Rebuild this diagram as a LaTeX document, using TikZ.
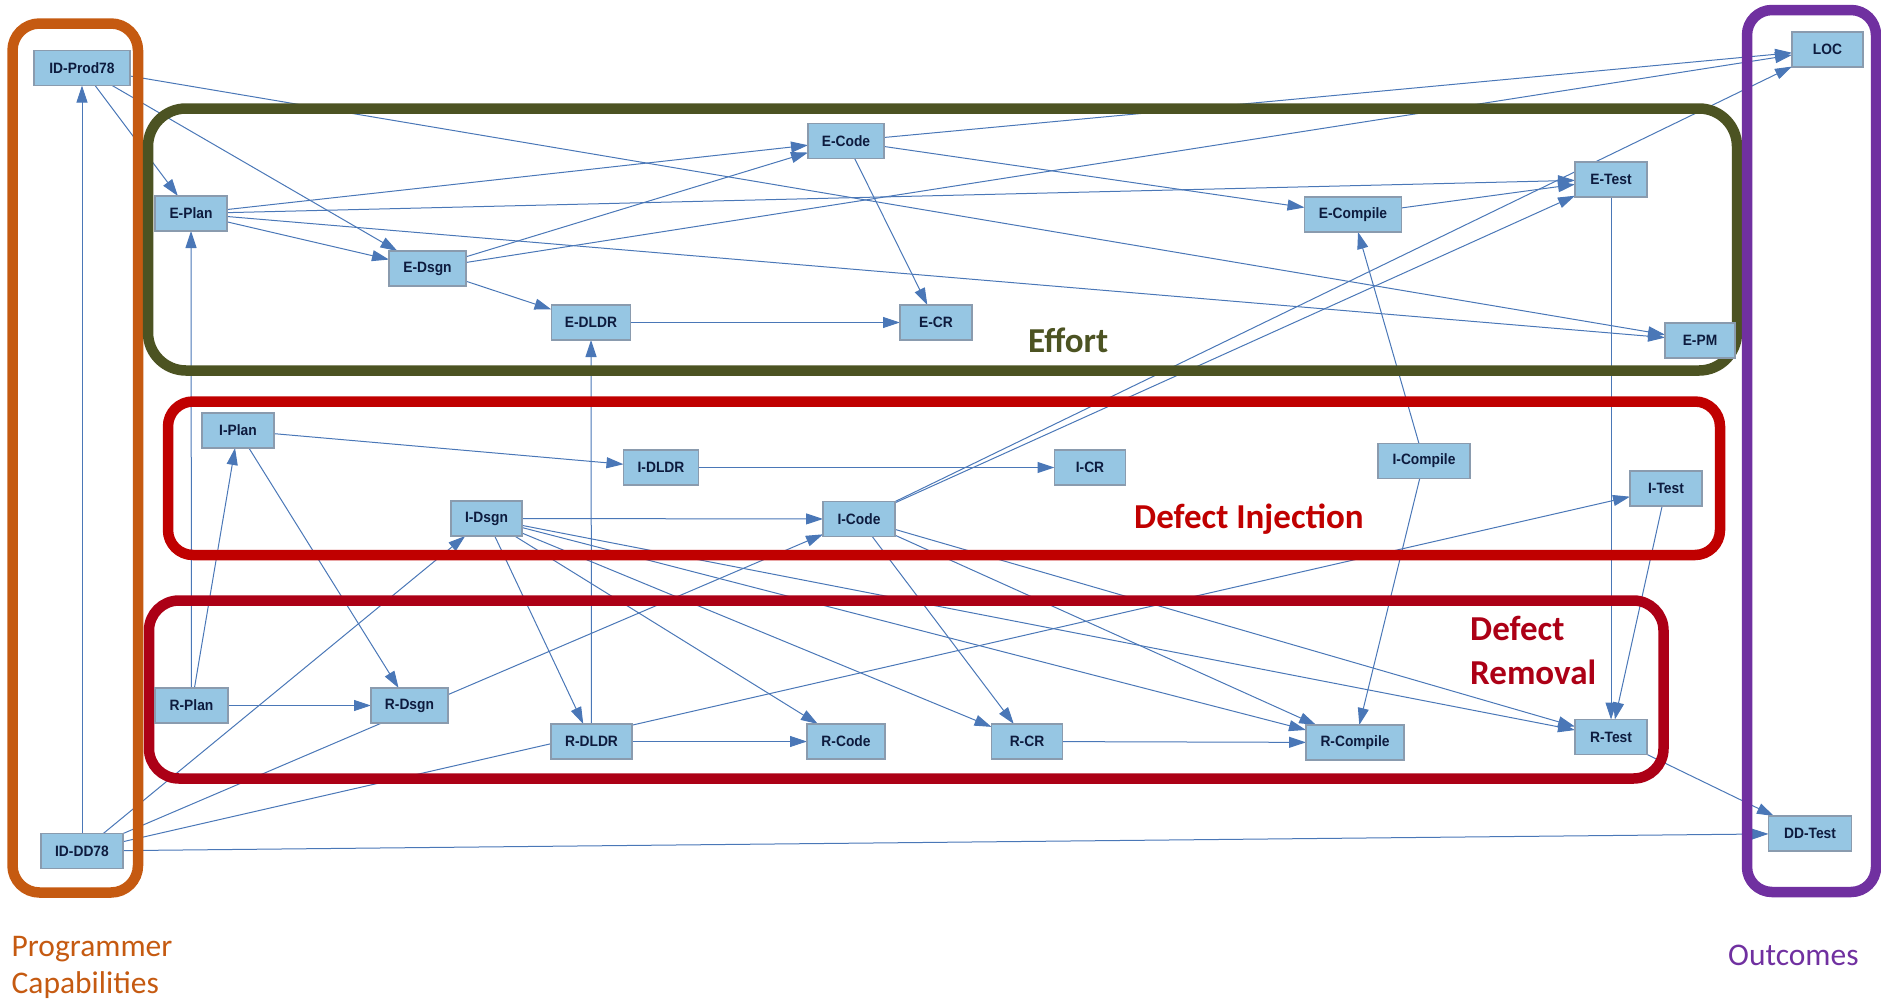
\documentclass[tikz,border=0pt]{standalone}
\usepackage{fontspec}
\setmainfont{Carlito}
\newfontfamily\nodefont[FakeStretch=0.92]{Liberation Sans}
\usetikzlibrary{arrows.meta}
\pgfdeclarelayer{edgelayer}
\pgfdeclarelayer{framelayer}
\pgfsetlayers{edgelayer,framelayer,main}

\definecolor{nodefill}{HTML}{96C6E3}
\definecolor{nodeborder}{HTML}{8A9BAE}
\definecolor{nodetext}{HTML}{0D1B3E}
\definecolor{edgeblue}{HTML}{4A77B7}
\definecolor{capcol}{HTML}{C55A11}
\definecolor{effcol}{HTML}{4C5322}
\definecolor{injcol}{HTML}{C00000}
\definecolor{remcol}{HTML}{AC0016}
\definecolor{outcol}{HTML}{7030A0}

\begin{document}
\begin{tikzpicture}[x=1pt,y=-1pt,
  var/.style={draw=nodeborder, line width=1.3pt, fill=nodefill,
    minimum height=35pt, minimum width=#1, inner sep=0pt, outer sep=0pt,
    font=\nodefont\bfseries\fontsize{15}{17}\selectfont, text=nodetext},
  var/.default=72pt,
  link/.style={draw=edgeblue, line width=1pt,
    -{Triangle[length=17pt,width=11pt]}},
  groupframe/.style={line width=10.5pt},
  grouplabel/.style={font=\bfseries\fontsize{35}{42}\selectfont,
    anchor=base west, inner sep=0pt},
  sidelabel/.style={font=\fontsize{31.5}{37}\selectfont,
    anchor=base west, inner sep=0pt},
]
\useasboundingbox (0,0) rectangle (1881,999);

% ---------- variables ----------
\node[var=96pt] (IDP) at (82,68) {ID-Prod78};
\node[var=82pt] (IDD) at (82,851) {ID-DD78};

\node[var=72pt] (EPlan) at (191,213.5) {E-Plan};
\node[var=77pt] (EDsgn) at (427.5,268.5) {E-Dsgn};
\node[var=79pt] (EDLDR) at (591,322.5) {E-DLDR};
\node[var=76pt] (ECode) at (846,141) {E-Code};
\node[var=72pt] (ECR) at (936,322.5) {E-CR};
\node[var=97pt] (ECompile) at (1353,214.5) {E-Compile};
\node[var=72pt] (ETest) at (1611,179.5) {E-Test};
\node[var=70pt] (EPM) at (1700,340.5) {E-PM};

\node[var=72pt] (IPlan) at (238,430.5) {I-Plan};
\node[var=75pt] (IDLDR) at (661,467.5) {I-DLDR};
\node[var=71pt] (IDsgn) at (486.5,518.5) {I-Dsgn};
\node[var=72pt] (ICode) at (859,519) {I-Code};
\node[var=71pt] (ICR) at (1090,467.5) {I-CR};
\node[var=92pt] (ICompile) at (1424,461) {I-Compile};
\node[var=72pt] (ITest) at (1666,488.5) {I-Test};

\node[var=73pt] (RPlan) at (191.5,705.5) {R-Plan};
\node[var=77pt] (RDsgn) at (409.5,705.5) {R-Dsgn};
\node[var=81pt] (RDLDR) at (591.5,741.5) {R-DLDR};
\node[var=78pt] (RCode) at (846,741.5) {R-Code};
\node[var=71pt] (RCR) at (1027,741.5) {R-CR};
\node[var=98pt] (RCompile) at (1355,742.5) {R-Compile};
\node[var=72pt] (RTest) at (1611,737) {R-Test};

\node[var=71pt] (LOC) at (1827.5,49.5) {LOC};
\node[var=83pt] (DDTest) at (1810,833.5) {DD-Test};

% ---------- dependencies ----------
\begin{pgfonlayer}{edgelayer}
  \draw[link] (IDD) -- (IDP);
  \draw[link] (IDP) -- (EPlan);
  \draw[link] (IDP) -- (EDsgn);
  \draw[link] (IDP) -- (EPM);
  \draw[link] (IDD) -- (IDsgn);
  \draw[link] (IDD) -- (ICode);
  \draw[link] (IDD) -- (ITest);
  \draw[link] (IDD) -- (DDTest);

  \draw[link] (EPlan) -- (ECode);
  \draw[link] (EPlan) -- (EDsgn);
  \draw[link] (EPlan) -- (ETest);
  \draw[link] (EPlan) -- (EPM);
  \draw[link] (EDsgn) -- (ECode);
  \draw[link] (EDsgn) -- (EDLDR);
  \draw[link] (EDsgn) -- (LOC);
  \draw[link] (ECode) -- (LOC);
  \draw[link] (ECode) -- (ECompile);
  \draw[link] (ECode) -- (ECR);
  \draw[link] (EDLDR) -- (ECR);
  \draw[link] (ECompile) -- (ETest);
  \draw[link] (ETest) -- (RTest);

  \draw[link] (ICode) -- (ETest);
  \draw[link] (ICode) -- (LOC);
  \draw[link] (ICompile) -- (ECompile);
  \draw[link] (ICompile) -- (RCompile);

  \draw[link] (RPlan) -- (EPlan);
  \draw[link] (RPlan) -- (IPlan);
  \draw[link] (RPlan) -- (RDsgn);
  \draw[link] (IPlan) -- (IDLDR);
  \draw[link] (IPlan) -- (RDsgn);
  \draw[link] (IDLDR) -- (ICR);

  \draw[link] (IDsgn) -- (ICode);
  \draw[link] (IDsgn) -- (RDLDR);
  \draw[link] (IDsgn) -- (RCode);
  \draw[link] (IDsgn) -- (RCR);
  \draw[link] (IDsgn) -- (RCompile);
  \draw[link] (IDsgn) -- (RTest);
  \draw[link] (ICode) -- (RCR);
  \draw[link] (ICode) -- (RCompile);
  \draw[link] (ICode) -- (RTest);

  \draw[link] (RDLDR) -- (EDLDR);
  \draw[link] (RDLDR) -- (RCode);
  \draw[link] (RCR) -- (RCompile);
  \draw[link] (ITest) -- (RTest);
  \draw[link] (RTest) -- (DDTest);
\end{pgfonlayer}

% ---------- group frames ----------
\begin{pgfonlayer}{framelayer}
  \draw[groupframe, capcol, rounded corners=27pt] (12.5,23.5) rectangle (138,892.5);
  \draw[groupframe, effcol, rounded corners=38pt] (148,108.5) rectangle (1737,370.5);
  \draw[groupframe, injcol, rounded corners=25pt] (168,401.5) rectangle (1720,555);
  \draw[groupframe, remcol, rounded corners=30pt] (149,600.5) rectangle (1663.5,778.5);
  \draw[groupframe, outcol, rounded corners=25pt] (1747,10) rectangle (1876,892);
\end{pgfonlayer}

% ---------- group labels ----------
\node[grouplabel, text=effcol] (leff) at (1028,352) {Effort};
\node[grouplabel, text=injcol] (linj) at (1134,528) {Defect Injection};
\node[grouplabel, text=remcol] (lrem1) at (1470,640) {Defect};
\node[grouplabel, text=remcol] (lrem2) at (1470,684) {Removal};
\node[sidelabel, text=capcol] (lcap1) at (11.5,956) {Programmer};
\node[sidelabel, text=capcol] (lcap2) at (11.5,993) {Capabilities};
\node[sidelabel, text=outcol] (lout) at (1728,965) {Outcomes};
\end{tikzpicture}
\end{document}
